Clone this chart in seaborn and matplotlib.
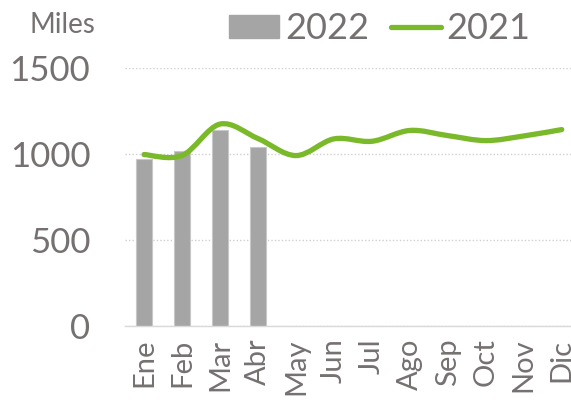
import numpy as np
import pandas as pd
import seaborn as sns
import matplotlib.pyplot as plt
from matplotlib.path import Path
from matplotlib.patches import PathPatch, Patch
from matplotlib.lines import Line2D

months = ['Ene', 'Feb', 'Mar', 'Abr', 'May', 'Jun', 'Jul', 'Ago', 'Sep', 'Oct', 'Nov', 'Dic']
sales_2022 = [971, 1015, 1141, 1039]
sales_2021 = [996, 990, 1173, 1089, 990, 1087, 1073, 1136, 1106, 1077, 1104, 1141]

bar_color = '#A5A5A5'
line_color = '#7AB929'
text_color = '#767171'

sns.set_style('white')
plt.rcParams['font.family'] = ['Lato', 'DejaVu Sans']

fig = plt.figure(figsize=(5.71, 4.11), dpi=100)
ax = fig.add_axes([0.219, 0.207, 0.798, 0.628])

df22 = pd.DataFrame({'mes': months[:len(sales_2022)], 'valor': sales_2022})
sns.barplot(data=df22, x='mes', y='valor', order=months, color=bar_color,
            width=0.42, saturation=1, edgecolor='#C8C8C8', linewidth=0.8, ax=ax)

# smoothed line (Excel style) drawn as bezier path through the data points
x = np.arange(len(sales_2021), dtype=float)
y = np.array(sales_2021, dtype=float)
verts = [(x[0], y[0])]
codes = [Path.MOVETO]
t = 1 / 6
for i in range(len(x) - 1):
    p0 = (x[i - 1], y[i - 1]) if i > 0 else (x[i], y[i])
    p1 = (x[i], y[i])
    p2 = (x[i + 1], y[i + 1])
    p3 = (x[i + 2], y[i + 2]) if i + 2 < len(x) else p2
    c1 = (p1[0] + (p2[0] - p0[0]) * t, p1[1] + (p2[1] - p0[1]) * t)
    c2 = (p2[0] - (p3[0] - p1[0]) * t, p2[1] - (p3[1] - p1[1]) * t)
    verts += [c1, c2, p2]
    codes += [Path.CURVE4] * 3
ax.add_patch(PathPatch(Path(verts, codes), facecolor='none', edgecolor=line_color,
                       lw=3.8, capstyle='round', joinstyle='round', zorder=3))

ax.set_xlim(-0.5, len(months) - 0.5)
ax.set_ylim(0, 1500)
ax.set_yticks([0, 500, 1000, 1500])
ax.yaxis.grid(True, color='#D0D0D0', linestyle=(0, (1, 1.5)), linewidth=1)
ax.set_axisbelow(True)
for s in ['top', 'right', 'left']:
    ax.spines[s].set_visible(False)
ax.spines['bottom'].set_color('#D9D9D9')
ax.spines['bottom'].set_linewidth(1)
ax.tick_params(axis='y', labelsize=25, colors=text_color, length=0, pad=25)
ax.tick_params(axis='x', labelsize=21, colors=text_color, length=0, pad=9, labelrotation=90)
ax.set_xlabel('')
ax.set_ylabel('')

fig.text(0.11, 0.94, 'Miles', fontsize=20, color=text_color, ha='center', va='center')

handles = [Patch(color=bar_color), Line2D([], [], color=line_color, lw=3.8, solid_capstyle='round')]
fig.legend(handles, ['2022', '2021'], loc='center', bbox_to_anchor=(0.665, 0.93), ncol=2,
           frameon=False, fontsize=26, labelcolor=text_color, handlelength=1.4,
           handleheight=0.6, handletextpad=0.15, columnspacing=0.6)

fig.savefig('out.png', dpi=100)
